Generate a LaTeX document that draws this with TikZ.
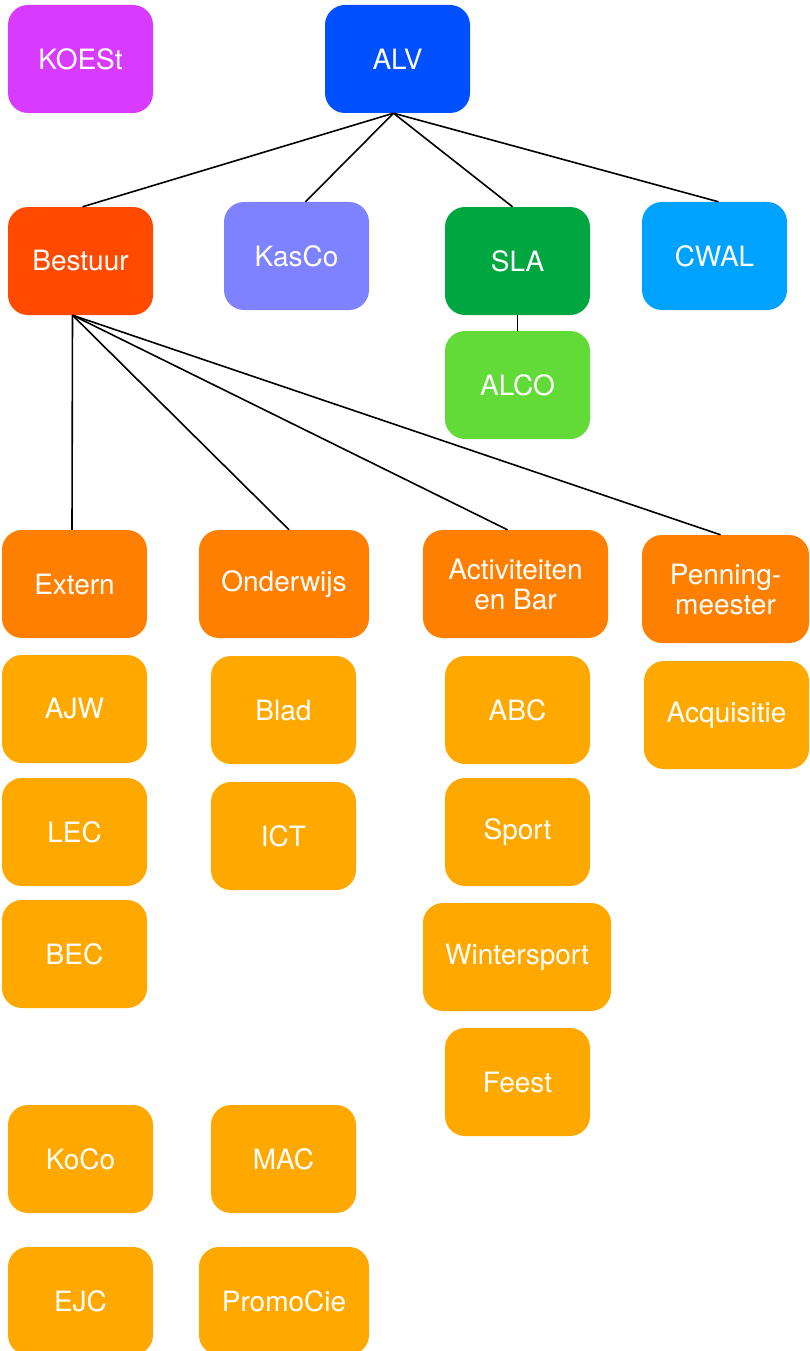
\documentclass[tikz,border=0pt]{standalone}
\usepackage{fontspec}
\setmainfont{TeX Gyre Heros}
\definecolor{koestpink}{HTML}{D83BFF}
\definecolor{alvblue}{HTML}{0050FF}
\definecolor{bestuurred}{HTML}{FF4A00}
\definecolor{kascoblue}{HTML}{7F82FF}
\definecolor{slagreen}{HTML}{00A640}
\definecolor{cwalblue}{HTML}{00A2FF}
\definecolor{alcogreen}{HTML}{62DA38}
\definecolor{boardorange}{HTML}{FF7F00}
\definecolor{commamber}{HTML}{FFA800}
\begin{document}
\begin{tikzpicture}[
		x = 1pt, y = -1pt,
		every node/.style = {
			font = \fontsize{28}{30}\selectfont
		},
		box/.style = {
			fill = #1,
			text = white,
			rounded corners = 20pt,
			minimum width = 145pt,
			minimum height = 108pt,
			inner sep = 0pt,
			align = center
		},
		link/.style = {
			draw = black,
			line width = 1.6pt
		}]
		\useasboundingbox (0, 0) rectangle (809, 1351);
		% top level
		\node[box = koestpink] (koest) at (80.5, 59) {KOESt};
		\node[box = alvblue] (alv) at (397.5, 59) {ALV};
		\node[box = bestuurred] (bestuur) at (80.5, 261) {Bestuur};
		\node[box = kascoblue] (kasco) at (296.5, 256) {KasCo};
		\node[box = slagreen] (sla) at (517.5, 261) {SLA};
		\node[box = cwalblue] (cwal) at (714.5, 256) {CWAL};
		\node[box = alcogreen] (alco) at (517.5, 385) {ALCO};
		% board members
		\node[box = boardorange] (extern) at (74.5, 584) {Extern};
		\node[box = boardorange, minimum width = 170pt] (onderwijs) at (284, 584) {Onderwijs};
		\node[box = boardorange, minimum width = 185pt] (activiteiten) at (515.5, 584) {Activiteiten\\en Bar};
		\node[box = boardorange, minimum width = 167pt] (penning) at (725.5, 589) {Penning-\\meester};
		% committees
		\node[box = commamber] (ajw) at (74.5, 709) {AJW};
		\node[box = commamber] (lec) at (74.5, 832) {LEC};
		\node[box = commamber] (bec) at (74.5, 954) {BEC};
		\node[box = commamber] (koco) at (80.5, 1159) {KoCo};
		\node[box = commamber] (ejc) at (80.5, 1301) {EJC};
		\node[box = commamber] (blad) at (283.5, 710) {Blad};
		\node[box = commamber] (ict) at (283.5, 836) {ICT};
		\node[box = commamber] (mac) at (283.5, 1159) {MAC};
		\node[box = commamber, minimum width = 170pt] (promocie) at (284, 1301) {PromoCie};
		\node[box = commamber] (abc) at (517.5, 710) {ABC};
		\node[box = commamber] (sport) at (517.5, 832) {Sport};
		\node[box = commamber, minimum width = 188pt] (wintersport) at (517, 957) {Wintersport};
		\node[box = commamber] (feest) at (517.5, 1082) {Feest};
		\node[box = commamber, minimum width = 165pt] (acquisitie) at (726.5, 715) {Acquisitie};
		% connectors
		\coordinate (alvfoot) at ([xshift = -4pt]alv.south);
		\coordinate (bestuurfoot) at ([xshift = -8pt]bestuur.south);
		\draw[link] (alvfoot) -- ([xshift = 2pt]bestuur.north);
		\draw[link] (alvfoot) -- ([xshift = 9pt]kasco.north);
		\draw[link] (alvfoot) -- ([xshift = -5pt]sla.north);
		\draw[link] (alvfoot) -- ([xshift = 4pt]cwal.north);
		\draw[link] (sla) -- (alco);
		\draw[link] (bestuurfoot) -- ([xshift = -2.5pt]extern.north);
		\draw[link] (bestuurfoot) -- ([xshift = 5pt]onderwijs.north);
		\draw[link] (bestuurfoot) -- ([xshift = -8pt]activiteiten.north);
		\draw[link] (bestuurfoot) -- ([xshift = -5pt]penning.north);
\end{tikzpicture}
\end{document}
